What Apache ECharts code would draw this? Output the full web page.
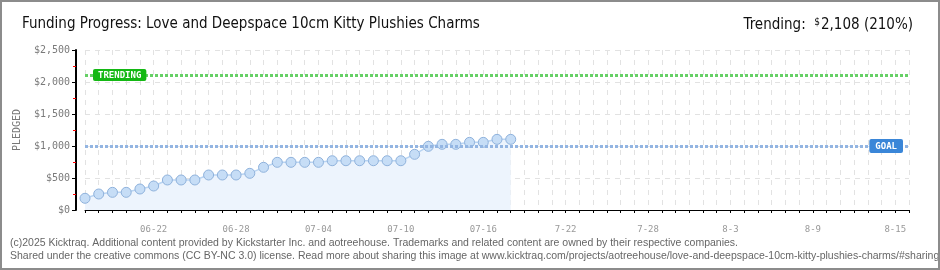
<!DOCTYPE html>
<html>
<head>
<meta charset="utf-8">
<script src="https://cdn.jsdelivr.net/npm/echarts@6/dist/echarts.min.js"></script>
<style>
  html, body { margin: 0; padding: 0; background: #fff; }
  #wrap { position: relative; width: 940px; height: 270px; }
  #chart { width: 940px; height: 270px; }
  #frame { position: absolute; left: 0; top: 0; width: 940px; height: 270px; box-sizing: border-box; border: 2px solid #8c8c8c; pointer-events: none; }
</style>
</head>
<body>
<div id="wrap"><div id="chart"></div><div id="frame"></div></div>
<script>
// ---- data ----
const titleText = 'Funding Progress: Love and Deepspace 10cm Kitty Plushies Charms';
const trendingAmount = 2108;
const trendingText = '2,108 (210%)';
const goal = 1000;
// daily pledged totals starting 06-17
const pledged = [183, 250, 276, 276, 328, 375, 469, 469, 469, 547, 547, 547, 573, 667, 745, 745,
                 745, 745, 770, 770, 770, 770, 770, 770, 870, 995, 1026, 1026, 1057, 1057, 1104, 1104];
// x categories: 06-17 .. 08-16 (61 days)
const startMonth = 6, startDay = 17, dayCount = 61;
const labelEvery = 6, firstLabelIndex = 5;
const yTicks = [0, 500, 1000, 1500, 2000, 2500];
const footer1 = '(c)2025 Kicktraq. Additional content provided by Kickstarter Inc. and aotreehouse. Trademarks and related content are owned by their respective companies.';
const footer2 = 'Shared under the creative commons (CC BY-NC 3.0) license. Read more about sharing this image at www.kicktraq.com/projects/aotreehouse/love-and-deepspace-10cm-kitty-plushies-charms/#sharing';

const monthDays = {6: 30, 7: 31, 8: 31};
const categories = [];
{
  let m = startMonth, d = startDay;
  for (let i = 0; i < dayCount; i++) {
    // dates after the data end are shown without zero padding
    const label = i < pledged.length
      ? String(m).padStart(2, '0') + '-' + String(d).padStart(2, '0')
      : m + '-' + d;
    categories.push(label);
    d++;
    if (d > monthDays[m]) { d = 1; m++; }
  }
}

const pixelFont = "'DejaVu Sans Mono', monospace";
const titleFont = "'Liberation Sans Narrow', 'DejaVu Sans Condensed', sans-serif";
const chart = echarts.init(document.getElementById('chart'));
chart.setOption({
  animation: false,
  backgroundColor: '#fff',
  title: [
    { text: titleText, left: 17, top: 12,
      textStyle: { fontFamily: titleFont, fontSize: 15, fontWeight: 'normal', color: '#111' } },
    { text: '{a|Trending:  }{s|$}{a|' + trendingText + '}', right: 22, top: 12,
      textStyle: { fontWeight: 'normal', rich: {
        a: { fontFamily: titleFont, fontSize: 15, fontWeight: 'normal', color: '#111' },
        s: { fontFamily: titleFont, fontSize: 10, fontWeight: 'normal', color: '#111', verticalAlign: 'top', padding: [0, 1, 6, 0] } } } }
  ],
  graphic: [
    { type: 'text', left: 10, top: 238, style: { text: footer1, fill: '#666', font: "10.5px 'Liberation Sans', sans-serif" } },
    { type: 'text', left: 10, top: 251, style: { text: footer2, fill: '#666', font: "10.5px 'Liberation Sans', sans-serif" } }
  ],
  grid: { left: 85, right: 31, top: 50, bottom: 60 },
  xAxis: {
    type: 'category', data: categories, boundaryGap: false, offset: 10,
    axisLine: { lineStyle: { color: '#000', width: 1 } },
    axisTick: { show: true, interval: 0, length: 3, lineStyle: { color: '#000' } },
    axisLabel: {
      interval: (idx) => idx >= firstLabelIndex && (idx - firstLabelIndex) % labelEvery === 0,
      color: '#999', fontFamily: pixelFont, fontSize: 9, margin: 5
    },
    splitLine: { show: true, interval: 0, lineStyle: { color: '#e2e2e2', type: [5, 5] } }
  },
  yAxis: {
    type: 'value', min: yTicks[0], max: yTicks[yTicks.length - 1], interval: 500, offset: 9,
    name: 'PLEDGED', nameLocation: 'middle', nameGap: 54, nameRotate: 90,
    nameTextStyle: { color: '#777', fontFamily: pixelFont, fontSize: 10 },
    axisLine: { show: true, lineStyle: { color: '#000', width: 2 } },
    axisTick: { show: true, length: 4, lineStyle: { color: '#000' } },
    minorTick: { show: true, splitNumber: 2, length: 3, lineStyle: { color: '#ff0000' } },
    axisLabel: { color: '#7a7a7a', fontFamily: pixelFont, fontSize: 10, margin: 6,
      formatter: (v) => '$' + v.toLocaleString('en-US') },
    splitLine: { show: true, lineStyle: { color: '#e2e2e2', type: [5, 5] } }
  },
  series: [{
    type: 'line', data: pledged,
    symbol: 'circle', symbolSize: 10, showAllSymbol: true,
    itemStyle: { color: '#c6ddf6', borderColor: '#8fb2dc', borderWidth: 1 },
    lineStyle: { color: '#b9d4f2', width: 1.5 },
    areaStyle: { color: '#edf4fd', opacity: 1 },
    z: 3,
    markLine: {
      silent: true, symbol: 'none', animation: false,
      data: [
        { yAxis: goal,
          lineStyle: { color: '#93b5e2', width: 3, type: [3, 2] },
          label: { show: true, formatter: 'GOAL', position: 'insideEndTop', distance: [6, -7],
            color: '#fff', backgroundColor: '#3a86d8', borderRadius: 2, padding: [3, 6, 2, 6],
            fontFamily: pixelFont, fontSize: 9, fontWeight: 'bold' } },
        { yAxis: trendingAmount,
          lineStyle: { color: '#66d066', width: 3, type: [3, 2] },
          label: { show: true, formatter: 'TRENDING', position: 'insideStartTop', distance: [8, -6],
            color: '#fff', backgroundColor: '#14b814', borderRadius: 2, padding: [2, 5, 1, 5],
            fontFamily: pixelFont, fontSize: 9, fontWeight: 'bold' } }
      ]
    }
  }]
});
</script>
</body>
</html>
